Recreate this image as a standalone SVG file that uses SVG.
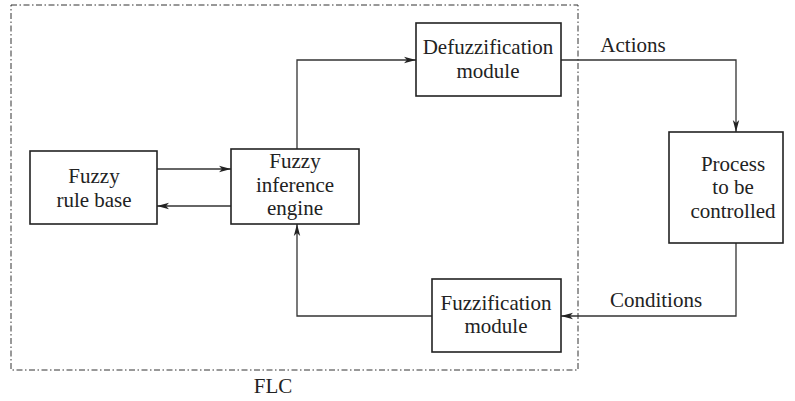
<svg xmlns="http://www.w3.org/2000/svg" width="795" height="401" viewBox="0 0 795 401">
  <style>
    .box { fill: #fff; stroke: #222; stroke-width: 1.6; }
    .lbl { font-size: 21px; fill: #222; text-anchor: middle; }
    .wire { fill: none; stroke: #333; stroke-width: 1.3; }
    .frame { fill: none; stroke: #333; stroke-width: 1; stroke-dasharray: 6 2.5 1.5 2.5; }
  </style>
  <defs>
    <marker id="arrow" viewBox="0 0 12 8" refX="12" refY="4" markerWidth="12" markerHeight="8" markerUnits="userSpaceOnUse" orient="auto">
      <path d="M0,0.8 L12,4 L0,7.2 L3,4 Z" fill="#222"/>
    </marker>
  </defs>

  <rect width="795" height="401" fill="#fff"/>

  <g font-family="Liberation Serif, Times New Roman, Times, serif">
  <!-- FLC boundary -->
  <rect class="frame" x="11" y="5" width="567" height="365"/>
  <text class="lbl" x="273" y="393">FLC</text>

  <g id="connectors">
    <line class="wire" x1="157" y1="169" x2="231" y2="169" marker-end="url(#arrow)"/>
    <line class="wire" x1="231" y1="206" x2="157" y2="206" marker-end="url(#arrow)"/>
    <polyline class="wire" points="297,149 297,60 416,60" marker-end="url(#arrow)"/>
    <polyline class="wire" points="561,60 736,60 736,132" marker-end="url(#arrow)"/>
    <polyline class="wire" points="736,243 736,316 561,316" marker-end="url(#arrow)"/>
    <polyline class="wire" points="432,316 297,316 297,224" marker-end="url(#arrow)"/>
    <text class="lbl" x="633" y="52">Actions</text>
    <text class="lbl" x="656" y="307">Conditions</text>
  </g>

  <g id="rule-base">
    <rect class="box" x="30" y="151" width="127" height="73"/>
    <text class="lbl" x="94" y="183">Fuzzy</text>
    <text class="lbl" x="94" y="207">rule base</text>
  </g>

  <g id="inference-engine">
    <rect class="box" x="231" y="149" width="128" height="75"/>
    <text class="lbl" x="295" y="168">Fuzzy</text>
    <text class="lbl" x="295" y="192">inference</text>
    <text class="lbl" x="295" y="215">engine</text>
  </g>

  <g id="defuzzification">
    <rect class="box" x="416" y="23" width="145" height="73"/>
    <text class="lbl" x="488" y="54">Defuzzification</text>
    <text class="lbl" x="488" y="78">module</text>
  </g>

  <g id="process">
    <rect class="box" x="669" y="132" width="114" height="111"/>
    <text class="lbl" x="733" y="171">Process</text>
    <text class="lbl" x="733" y="194">to be</text>
    <text class="lbl" x="733" y="218">controlled</text>
  </g>

  <g id="fuzzification">
    <rect class="box" x="432" y="279" width="129" height="73"/>
    <text class="lbl" x="496" y="310">Fuzzification</text>
    <text class="lbl" x="496" y="333">module</text>
  </g>
  </g>
</svg>
